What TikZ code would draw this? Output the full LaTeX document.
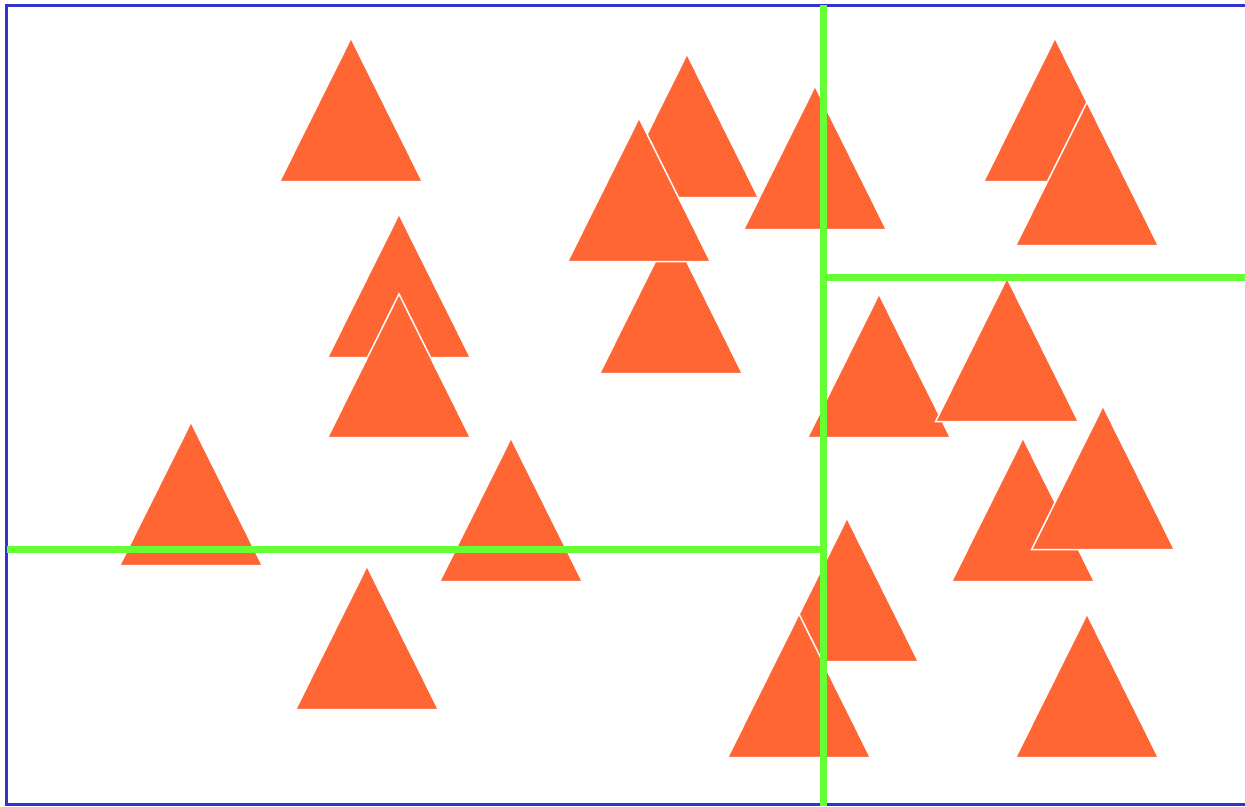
\documentclass[tikz,border=0pt]{standalone}
\definecolor{triorange}{HTML}{FF6633}
\definecolor{linegreen}{HTML}{66FF33}
\definecolor{frameblue}{HTML}{3333CC}
\tikzset{
  tri/.style={fill=triorange,draw=white,line width=1.5pt,line join=miter},
  frame/.style={draw=frameblue,line width=3pt},
  divider/.style={draw=linegreen,line width=7pt}
}
\begin{document}
\begin{tikzpicture}[x=1pt,y=-1pt]
\clip (0,0) rectangle (1245,806);
\fill[white] (0,0) rectangle (1245,806);
\draw[frame] (6.5,5.5) rectangle (1270,804.5);
\foreach \cx/\ty in {351/40, 687/56, 671/232, 639/120, 815/88, 1055/40, 1087/104,
  399/216, 399/296, 879/296, 1007/280, 191/424, 511/440, 1023/440, 1103/408,
  847/520, 799/616, 367/568, 1087/616}
  \filldraw[tri] (\cx,\ty-2) -- (\cx+71.5,\ty+141.7) -- (\cx-71.5,\ty+141.7) -- cycle;
\coordinate (vtop) at (823,5);
\coordinate (vbot) at (823,806);
\coordinate (hl1) at (7,549.5);
\coordinate (hl2) at (823,549.5);
\coordinate (hr1) at (823,277.5);
\coordinate (hr2) at (1245,277.5);
\draw[divider] (vtop) -- (vbot);
\draw[divider] (hl1) -- (hl2);
\draw[divider] (hr1) -- (hr2);
\end{tikzpicture}
\end{document}
